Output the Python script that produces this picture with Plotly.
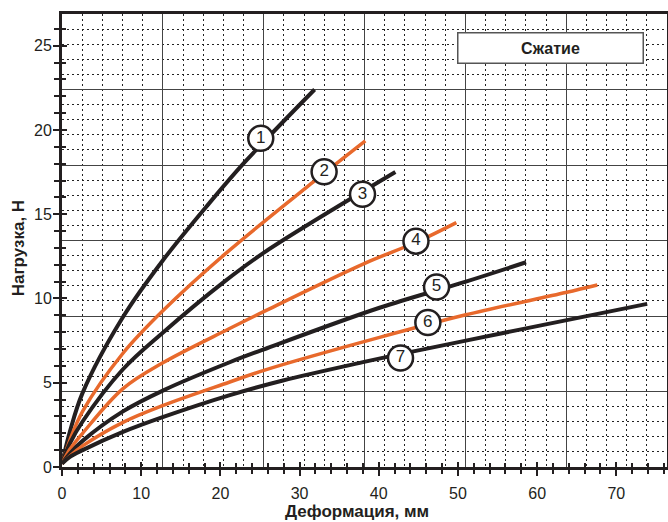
import plotly.graph_objects as go

# deformation (mm) vs load (N)
curve1_x = [0, 1.0, 2.6, 7.7, 12.8, 18.5, 23.1, 31.9]
curve1_y = [0.2, 2.1, 4.4, 8.9, 12.3, 15.6, 18.1, 22.4]
curve2_x = [0, 1.0, 2.6, 7.7, 12.8, 20.5, 31.7, 38.3]
curve2_y = [0.2, 1.6, 3.3, 6.75, 9.3, 12.6, 16.9, 19.35]
curve3_x = [0, 1.0, 2.6, 7.7, 12.8, 20.5, 25.6, 42.1]
curve3_y = [0.2, 1.4, 2.7, 5.8, 8.0, 11.0, 12.75, 17.5]
curve4_x = [0, 1.0, 2.6, 7.7, 12.8, 21.1, 25.6, 38.3, 44.8, 49.8]
curve4_y = [0.2, 1.05, 2.0, 4.65, 6.2, 8.2, 9.25, 12.1, 13.35, 14.5]
curve5_x = [0, 1.0, 2.6, 7.7, 12.8, 21.1, 25.6, 40.1, 51.0, 58.6]
curve5_y = [0.2, 0.8, 1.55, 3.3, 4.55, 6.2, 7.0, 9.45, 11.0, 12.15]
curve6_x = [0, 1.0, 2.6, 7.7, 12.8, 21.1, 25.6, 40.1, 51.0, 63.6, 67.6]
curve6_y = [0.2, 0.65, 1.25, 2.65, 3.66, 5.03, 5.75, 7.69, 9.03, 10.35, 10.8]
curve7_x = [0, 1.0, 2.6, 7.7, 12.8, 21.1, 27.9, 38.3, 42.7, 51.0, 63.6, 73.9]
curve7_y = [0.2, 0.6, 1.0, 2.08, 2.97, 4.25, 5.13, 6.25, 6.7, 7.5, 8.7, 9.68]

label_text = ["1", "2", "3", "4", "5", "6", "7"]
label_x = [25.1, 33.1, 37.95, 44.7, 47.3, 46.2, 42.75]
label_y = [19.5, 17.52, 16.18, 13.4, 10.68, 8.57, 6.47]

x_ticks = [0, 10, 20, 30, 40, 50, 60, 70]
y_ticks = [0, 5, 10, 15, 20, 25]

BLACK = "#231f20"
ORANGE = "#e8692c"
X_MAX = 76.4
Y_MAX = 26.88

curves = [(curve1_x, curve1_y), (curve2_x, curve2_y), (curve3_x, curve3_y),
          (curve4_x, curve4_y), (curve5_x, curve5_y), (curve6_x, curve6_y),
          (curve7_x, curve7_y)]

fig = go.Figure()
for i, (cx, cy) in enumerate(curves):
    col = BLACK if i % 2 == 0 else ORANGE
    fig.add_trace(go.Scatter(x=cx, y=cy, mode="lines",
                             line=dict(color=col, width=4 if i % 2 == 0 else 3.5,
                                       shape="spline", smoothing=1.0)))

fig.add_trace(go.Scatter(x=label_x, y=label_y, mode="markers+text", text=label_text,
                         textposition="middle center",
                         textfont=dict(size=17, color=BLACK, family="Liberation Sans"),
                         marker=dict(size=25, color="white", line=dict(color=BLACK, width=2.5))))

# dummy traces so the overlay axes get drawn
for xa, ya in [("x2", "y"), ("x3", "y"), ("x", "y2"), ("x", "y3")]:
    fig.add_trace(go.Scatter(x=[None], y=[None], xaxis=xa, yaxis=ya))

font = dict(family="Liberation Sans", size=16, color=BLACK)

fig.update_layout(
    width=668, height=522,
    margin=dict(l=62, r=1, t=14, b=55),
    paper_bgcolor="white", plot_bgcolor="white",
    showlegend=False,
    font=font,
    # labels, outside ticks and the frame
    xaxis=dict(range=[0, X_MAX], tickvals=x_ticks, ticks="outside", ticklen=6, tickwidth=2,
               tickcolor=BLACK, minor=dict(dtick=2, tick0=0, ticks="outside", ticklen=4,
                                           tickwidth=2, tickcolor=BLACK, showgrid=False),
               showgrid=False, zeroline=False, showline=True, linewidth=3, linecolor=BLACK,
               mirror=True, tickfont=font, ticklabelstandoff=4, automargin=False),
    yaxis=dict(range=[0, Y_MAX], tickvals=y_ticks, ticks="outside", ticklen=6, tickwidth=2,
               tickcolor=BLACK, minor=dict(dtick=1, tick0=0, ticks="outside", ticklen=5,
                                           tickwidth=2, tickcolor=BLACK, showgrid=False),
               showgrid=False, zeroline=False, showline=True, linewidth=3, linecolor=BLACK,
               mirror=True, tickfont=font, ticklabelstandoff=-2, automargin=False),
    # grid
    xaxis2=dict(overlaying="x", anchor="y", range=[0, X_MAX], tick0=0, dtick=X_MAX / 6,
                showticklabels=False, ticks="", showgrid=True, gridcolor="#444", gridwidth=1,
                minor=dict(dtick=X_MAX / 30, tick0=0, showgrid=True, gridcolor="#222",
                           gridwidth=1, griddash="2px,3px"),
                zeroline=False, showline=False, automargin=False),
    yaxis2=dict(overlaying="y", anchor="x", range=[0, Y_MAX], tick0=0, dtick=Y_MAX / 6,
                showticklabels=False, ticks="", showgrid=True, gridcolor="#444", gridwidth=1,
                minor=dict(dtick=Y_MAX / 30, tick0=0, showgrid=True, gridcolor="#222",
                           gridwidth=1, griddash="2px,3px"),
                zeroline=False, showline=False, automargin=False),
    # inside half of the crossing ticks
    xaxis3=dict(overlaying="x", anchor="y", range=[0, X_MAX], tickvals=x_ticks,
                showticklabels=False, ticks="inside", ticklen=5, tickwidth=2, tickcolor=BLACK,
                minor=dict(dtick=2, tick0=0, ticks="inside", ticklen=4, tickwidth=2,
                           tickcolor=BLACK, showgrid=False),
                showgrid=False, zeroline=False, showline=False, automargin=False),
    yaxis3=dict(overlaying="y", anchor="x", range=[0, Y_MAX], tickvals=y_ticks,
                showticklabels=False, ticks="inside", ticklen=5, tickwidth=2, tickcolor=BLACK,
                minor=dict(dtick=1, tick0=0, ticks="inside", ticklen=4, tickwidth=2,
                           tickcolor=BLACK, showgrid=False),
                showgrid=False, zeroline=False, showline=False, automargin=False),
)

# axis titles
fig.add_annotation(x=0.488, y=0, xref="paper", yref="paper", xanchor="center", yanchor="top",
                   yshift=-33, showarrow=False, text="<b>Деформация, мм</b>",
                   font=dict(size=17, color=BLACK, family="Liberation Sans"))
fig.add_annotation(x=0, y=0.483, xref="paper", yref="paper", xanchor="center", yanchor="middle",
                   xshift=-44, textangle=-90, showarrow=False, text="<b>Нагрузка, Н</b>",
                   font=dict(size=17, color=BLACK, family="Liberation Sans"))

fig.add_annotation(x=0.807, y=0.925, xref="paper", yref="paper", xanchor="center",
                   yanchor="middle", text="<b>Сжатие</b>",
                   showarrow=False, width=184, height=29, borderpad=0,
                   bgcolor="white", bordercolor="#555", borderwidth=1.5,
                   font=dict(size=16, color=BLACK, family="Liberation Sans"))

# the page's default body margin would push the figure 8px off
fig.write_html("out.html", config={"displayModeBar": False},
               post_script="document.body.style.margin='0';"
                           "document.documentElement.style.overflow='hidden';")
